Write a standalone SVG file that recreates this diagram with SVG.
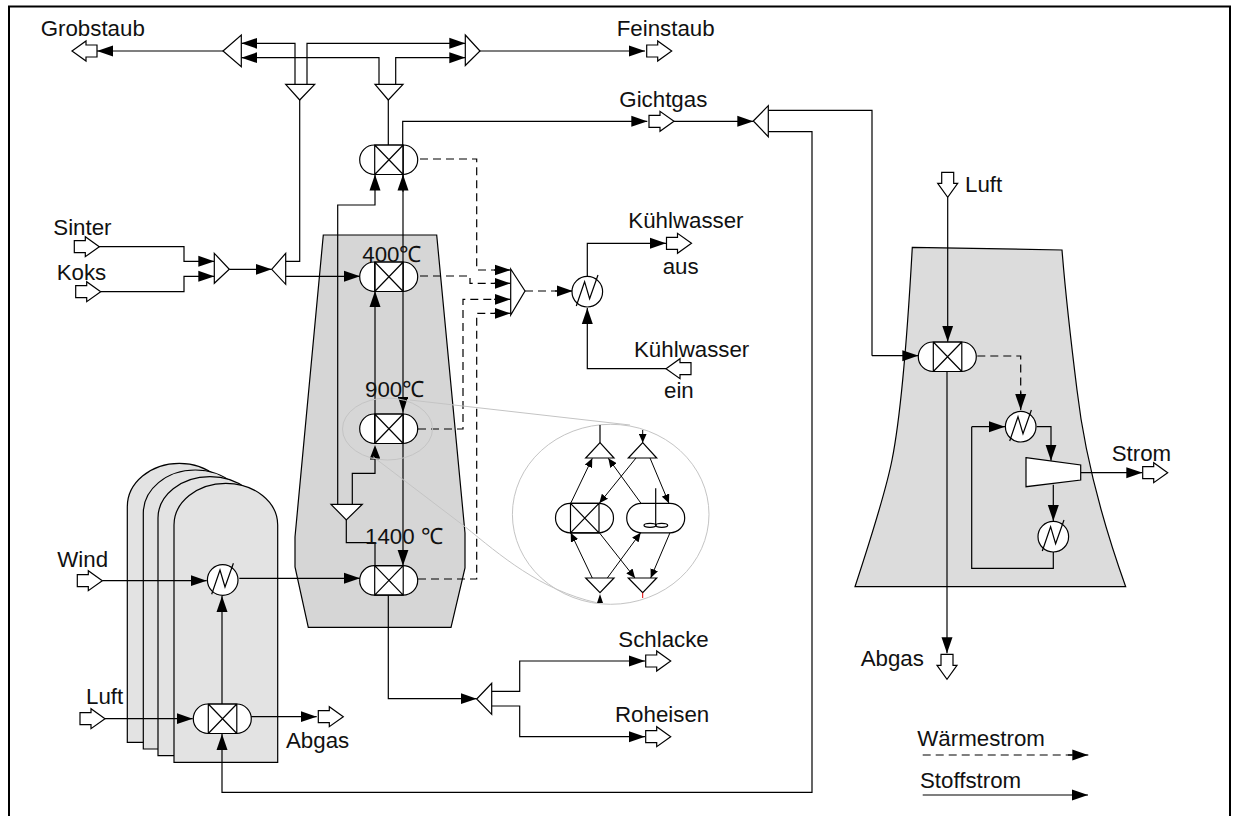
<svg xmlns="http://www.w3.org/2000/svg" xmlns:xlink="http://www.w3.org/1999/xlink" width="1234" height="816" viewBox="0 0 1234 816">
<style>
.l{fill:none;stroke:#000;stroke-width:1.2}
.d{fill:none;stroke:#000;stroke-width:1.2;stroke-dasharray:8 5}
.a{marker-end:url(#arr)}
.s{fill:none;stroke:#000;stroke-width:1;marker-end:url(#sm)}
.n{fill:#fff;stroke:#000;stroke-width:1.2}
.c{fill:none;stroke:#c4c4c4;stroke-width:1}
text{font-family:"Liberation Sans",Arial,sans-serif;font-size:22.3px;fill:#111}
</style>
<defs>
<marker id="arr" markerUnits="userSpaceOnUse" markerWidth="16" markerHeight="12" refX="16" refY="6" orient="auto"><path d="M0,0.5L16,6L0,11.5Z" fill="#000"/></marker>
<marker id="sm" markerUnits="userSpaceOnUse" markerWidth="9" markerHeight="8" refX="9" refY="4" orient="auto"><path d="M0,0L9,4L0,8Z" fill="#000"/></marker>
<polygon id="open" points="0,-6 11,-6 11,-10 25,0 11,10 11,6 0,6" class="n"/>
<g id="reactor">
<rect x="0" y="0" width="58" height="29.5" rx="14.7" ry="14.7" class="n"/>
<path d="M15,0V29.5H43.5V0ZM15,0L43.5,29.5M43.5,0L15,29.5" class="l"/>
</g>
<g id="hx">
<circle r="15.3" class="n"/>
<path d="M-11,14.3L-2.7,-10L2.3,7L10.7,-16.7" class="l"/>
</g>
</defs>

<path d="M9,816V6.500H1230V816" fill="none" stroke="#000" stroke-width="2"/>

<g id="furnace"><path d="M323.300,235H436.700L465,533V568L451,627.300H308.300L295,567V537Z" fill="#d6d6d6" stroke="#000" stroke-width="1.200"/></g>
<g id="tower"><path d="M912.300,247.300L1062,250C1066,300 1072,350 1077,390C1084,450 1100,515 1125.700,586.700H855C872,535 886,490 892,460C900,420 906,360 912.300,247.300Z" fill="#dcdcdc" stroke="#000" stroke-width="1.200"/></g>
<g id="stoves" fill="#e3e3e3" stroke="#000" stroke-width="1.200">
<path d="M127.300,742.300V506.700A52,43.400 0 0 1 231.300,506.700V742.300Z"/>
<path d="M143.300,749V513A52,43 0 0 1 247.300,513V749Z"/>
<path d="M158,755.700V518A52,41.300 0 0 1 262,518V755.700Z"/>
<path d="M174,762.300V525A51.850,41.700 0 0 1 277.700,525V762.300Z"/>
</g>

<g id="connectors">
<path class="l a" d="M223,51H97"/>
<path class="l a" d="M295,84.300V43.300H241.300"/>
<path class="l a" d="M307,84.300V43.300H465.300"/>
<path class="l a" d="M379,84.300V57.700H241.300"/>
<path class="l a" d="M395.700,84.300V57.700H465.300"/>
<path class="l a" d="M480,51H645"/>
<path class="l" d="M299.700,100V261.300H285.700"/>
<path class="l" d="M388.300,100V145"/>
<path class="l a" d="M402.700,145V121.300H647.300"/>
<path class="l a" d="M674,121.300H753.300"/>
<path class="l" d="M768.300,110.300H872V355.700"/>
<path class="l a" d="M872,355.700H918.300"/>
<path class="l a" d="M768.300,131.700H812V792.300H222V734"/>
<path class="l a" d="M337.700,504.300V205H375V174.500"/>
<path class="l a" d="M375,414V291"/>
<path class="l" d="M352.300,504.300V473.300H375V458"/>
<path class="l" d="M346.300,520V542.700H375V565.700"/>
<path class="l a" d="M388.300,595V698.700H476.700"/>
<path class="l a" d="M491.700,691.300H519.700V661H645"/>
<path class="l a" d="M491.700,706H519.700V736.700H645"/>
<path class="l a" d="M99,246.700H184V261.300H214.300"/>
<path class="l a" d="M100.700,291.700H184V276.300H214.300"/>
<path class="l a" d="M229.300,269.300H271.700"/>
<path class="l a" d="M285.700,276.300H360"/>
<path class="l a" d="M102.300,580.700H206.700"/>
<path class="l a" d="M239.300,578.300H360"/>
<path class="l a" d="M222,704V596"/>
<path class="l a" d="M105,718.700H192.700"/>
<path class="l a" d="M251,716.700H316.700"/>
<path class="d" d="M420,159H476.700V270H496"/>
<path class="l a" d="M494,270H510.500"/>
<path class="d" d="M420,276H470V283.300H496"/>
<path class="l a" d="M494,283.300H510.500"/>
<path class="d" d="M418,429H463V299.300H496"/>
<path class="l a" d="M494,299.300H510.500"/>
<path class="d" d="M418,579H476.700V313.300H496"/>
<path class="l a" d="M494,313.300H510.500"/>
<path class="d" d="M525,291H558"/>
<path class="l a" d="M555,291H572.700"/>
<path class="l a" d="M587.300,276.500V243.300H666"/>
<path class="l a" d="M666,368.700H587.300V308"/>
<path class="l a" d="M947.700,197.300V341.700"/>
<path class="l a" d="M947,371.700V653.300"/>
<path class="d" d="M977.300,356H1020.700V396"/>
<path class="l a" d="M1020.700,392V410"/>
<path class="l a" d="M971.700,426.700H1005"/>
<path class="l a" d="M1036.700,426.700H1051V460.700"/>
<path class="l a" d="M1080.700,472.700H1142.300"/>
<path class="l a" d="M1053.300,484.700V521"/>
<path class="l" d="M1053.300,552V568.300H971.700V426.700"/>
<path class="d" d="M922.700,755H1072"/>
<path class="l a" d="M1068,755H1088.300"/>
<path class="l a" d="M922.700,795H1088"/>
</g>

<g id="splitters" class="n">
<polygon class="n" points="223,51 241.300,35 241.300,66.700"/>
<polygon class="n" points="465.300,35 480,51 465.300,65.500"/>
<polygon class="n" points="285.700,84.300 314.700,84.300 299.700,100"/>
<polygon class="n" points="375,84.300 403,84.300 388.300,100"/>
<polygon class="n" points="753.300,121 768.300,105.700 768.300,136.700"/>
<polygon class="n" points="214.300,253.300 229.300,269.300 214.300,283.300"/>
<polygon class="n" points="271.700,269.300 285.700,253.300 285.700,284.300"/>
<polygon class="n" points="510.700,269 525,291 510.700,315"/>
<polygon class="n" points="331,504.300 362.300,504.300 346.300,520"/>
<polygon class="n" points="476.700,699 491.700,683.300 491.700,714.300"/>
</g>

<g id="reactors">
<use xlink:href="#reactor" href="#reactor" x="359.700" y="145"/>
<use xlink:href="#reactor" href="#reactor" x="359.700" y="262"/>
<use xlink:href="#reactor" href="#reactor" x="359.700" y="414"/>
<use xlink:href="#reactor" href="#reactor" x="359.700" y="565.700"/>
<use xlink:href="#reactor" href="#reactor" x="193.300" y="704"/>
<use xlink:href="#reactor" href="#reactor" x="918.300" y="342"/>
</g>
<g id="through-lines">
<path class="l a" d="M403,145V565.700"/>
<path class="l a" d="M403,191.700V174.500"/>
<path class="l" d="M375,262V291M375,414V443.300"/>
<path d="M403,412.700L398.700,399H407.300Z" fill="#000"/>
<path d="M398,398H408" fill="none" stroke="#000" stroke-width="2"/>
<path d="M375,445L370,458H380Z" fill="#000"/>
<path class="l" d="M370,459H380"/>
</g>

<g id="exchangers">
<use xlink:href="#hx" href="#hx" x="587.300" y="291.700"/>
<use xlink:href="#hx" href="#hx" x="222.700" y="580"/>
<use xlink:href="#hx" href="#hx" x="1020.700" y="426.700"/>
<use xlink:href="#hx" href="#hx" x="1053.300" y="536.700"/>
</g>
<g id="turbine"><polygon class="n" points="1026,457.700 1080.700,465 1080.700,480 1026,486.700"/></g>

<g id="ports">
<use xlink:href="#open" href="#open" transform="translate(97,51) rotate(180)"/>
<use xlink:href="#open" href="#open" transform="translate(646.700,51)"/>
<use xlink:href="#open" href="#open" transform="translate(649,121.300)"/>
<use xlink:href="#open" href="#open" transform="translate(74.300,246.700)"/>
<use xlink:href="#open" href="#open" transform="translate(75.700,291.700)"/>
<use xlink:href="#open" href="#open" transform="translate(666.500,243.300)"/>
<use xlink:href="#open" href="#open" transform="translate(691,368.700) rotate(180)"/>
<use xlink:href="#open" href="#open" transform="translate(77.300,580.700)"/>
<use xlink:href="#open" href="#open" transform="translate(80,718.700)"/>
<use xlink:href="#open" href="#open" transform="translate(318.300,716.700)"/>
<use xlink:href="#open" href="#open" transform="translate(645.700,661)"/>
<use xlink:href="#open" href="#open" transform="translate(645.700,736.700)"/>
<use xlink:href="#open" href="#open" transform="translate(947.700,172.300) rotate(90)"/>
<use xlink:href="#open" href="#open" transform="translate(947,654.300) rotate(90)"/>
<use xlink:href="#open" href="#open" transform="translate(1142.700,472.700)"/>
</g>

<g id="zoom-callout">
<ellipse class="c" cx="387.500" cy="429" rx="45" ry="31"/>
<ellipse class="c" cx="610.700" cy="514.300" rx="98.300" ry="90"/>
<path class="c" d="M410,400L630,425M373,456.700L465,526.700C500,555 540,590 596.700,602.700"/>
</g>

<g id="inset">
<path class="l" d="M600,425V442.700"/>
<path class="s" d="M642.700,430V442.700"/>
<polygon class="n" points="600,442.700 614,458 585.700,458"/>
<polygon class="n" points="642.700,442.700 656.700,458 628.300,458"/>
<use xlink:href="#reactor" href="#reactor" x="555.500" y="503.300"/>
<rect x="626.700" y="503.300" width="58" height="29.500" rx="14.700" class="n"/>
<path class="l" d="M655.700,488.300V525.300"/>
<ellipse class="l" cx="650" cy="525.300" rx="6" ry="2"/>
<ellipse class="l" cx="661.700" cy="525.300" rx="6" ry="2"/>
<polygon class="n" points="585.700,578 614,578 600,592.700"/>
<polygon class="n" points="628.300,578 656.700,578 642.700,592.700"/>
<path class="s" d="M570.700,503.300L592.300,458.300"/>
<path class="s" d="M641,503.300L608.300,458.300"/>
<path class="s" d="M636,458L599.300,503.300"/>
<path class="s" d="M650,458L669,503.300"/>
<path class="s" d="M592.300,578L570.700,532.700"/>
<path class="s" d="M607.300,578L640.700,532.700"/>
<path class="s" d="M599.300,532.700L635,578"/>
<path class="s" d="M670,532.700L650.700,578"/>
<path d="M600,594L597,603H603Z" fill="#000"/>
<path d="M642.700,592.700V598" fill="none" stroke="#e00000" stroke-width="1"/>
</g>

<g id="labels">
<text x="40.700" y="35.700">Grobstaub</text>
<text x="616.700" y="35.700">Feinstaub</text>
<text x="619.300" y="106.700">Gichtgas</text>
<text x="53.300" y="235">Sinter</text>
<text x="56.700" y="280">Koks</text>
<text x="362.300" y="262.300">400℃</text>
<text x="365" y="397.300">900℃</text>
<text x="365" y="544">1400 ℃</text>
<text x="628.300" y="227.700">Kühlwasser</text>
<text x="662.700" y="274">aus</text>
<text x="634" y="356.700">Kühlwasser</text>
<text x="664" y="398">ein</text>
<text x="57.300" y="567.300">Wind</text>
<text x="86" y="704">Luft</text>
<text x="286" y="747.700">Abgas</text>
<text x="965" y="192">Luft</text>
<text x="1111.700" y="460.700">Strom</text>
<text x="860.700" y="665.700">Abgas</text>
<text x="618.300" y="647.300">Schlacke</text>
<text x="615" y="721.700">Roheisen</text>
<text x="917.300" y="746">Wärmestrom</text>
<text x="920" y="787.700">Stoffstrom</text>
</g>
</svg>
